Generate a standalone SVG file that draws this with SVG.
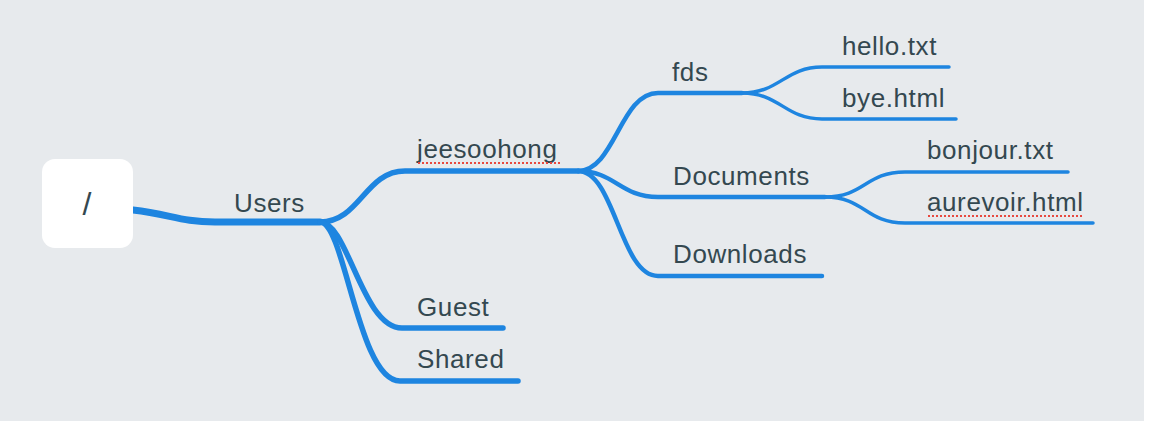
<svg xmlns="http://www.w3.org/2000/svg" width="1150" height="424" viewBox="0 0 1150 424">
<style>
.lbl{font-family:"Liberation Sans",Arial,sans-serif;font-size:26px;fill:#344850;letter-spacing:0.6px}
.c{fill:none;stroke:#1e85e0;stroke-linecap:round;stroke-linejoin:round}
.w1{stroke-width:7}
.w2{stroke-width:5.5}
.w3{stroke-width:4.5}
.w4{stroke-width:3.5}
.sp{stroke:#e8493f;stroke-width:2;stroke-dasharray:2 2;fill:none}
</style>
<rect x="0" y="0" width="1150" height="424" fill="#ffffff"/>
<rect x="0" y="0" width="1144" height="421" fill="#e7eaed"/>
<g id="connectors">
<path class="c w1" d="M133,210 C170,214 180,222 215,222 L320,222"/>
<path class="c w2" d="M320,222 C360,222 365,171 405,171 L578,171"/>
<path class="c w2" d="M320,222 C348,222 362,328 402,328 L503,328"/>
<path class="c w2" d="M320,222 C345,222 358,381 400,381 L518,381"/>
<path class="c w3" d="M578,171 C615,171 620,93 658,93 L742,93"/>
<path class="c w3" d="M578,171 C615,171 620,197 658,197 L825,197"/>
<path class="c w3" d="M578,171 C615,171 620,276 658,276 L822,276"/>
<path class="c w4" d="M742,93 C780,93 785,67 822,67 L949,67"/>
<path class="c w4" d="M742,93 C780,93 785,119 822,119 L956,119"/>
<path class="c w4" d="M825,197 C865,197 865,172 905,172 L1068,172"/>
<path class="c w4" d="M825,197 C865,197 865,223 905,223 L1093,223"/>
</g>
<g id="root">
<rect x="42" y="159" width="91" height="89" rx="13" fill="#ffffff"/>
<text class="lbl" x="87" y="215" text-anchor="middle" style="font-size:32px;letter-spacing:0">/</text>
</g>
<g id="users"><text class="lbl" x="234" y="212">Users</text></g>
<g id="jeesoohong"><text class="lbl" x="417" y="158">jeesoohong</text><line class="sp" x1="418" y1="163" x2="561" y2="163"/></g>
<g id="guest"><text class="lbl" x="417" y="316">Guest</text></g>
<g id="shared"><text class="lbl" x="417" y="368">Shared</text></g>
<g id="fds"><text class="lbl" x="672" y="81">fds</text></g>
<g id="documents"><text class="lbl" x="673" y="185">Documents</text></g>
<g id="downloads"><text class="lbl" x="673" y="263">Downloads</text></g>
<g id="hello"><text class="lbl" x="842" y="55">hello.txt</text></g>
<g id="bye"><text class="lbl" x="842" y="107">bye.html</text></g>
<g id="bonjour"><text class="lbl" x="927" y="159">bonjour.txt</text></g>
<g id="aurevoir"><text class="lbl" x="927" y="211">aurevoir.html</text><line class="sp" x1="928" y1="216" x2="1084" y2="216"/></g>
</svg>
